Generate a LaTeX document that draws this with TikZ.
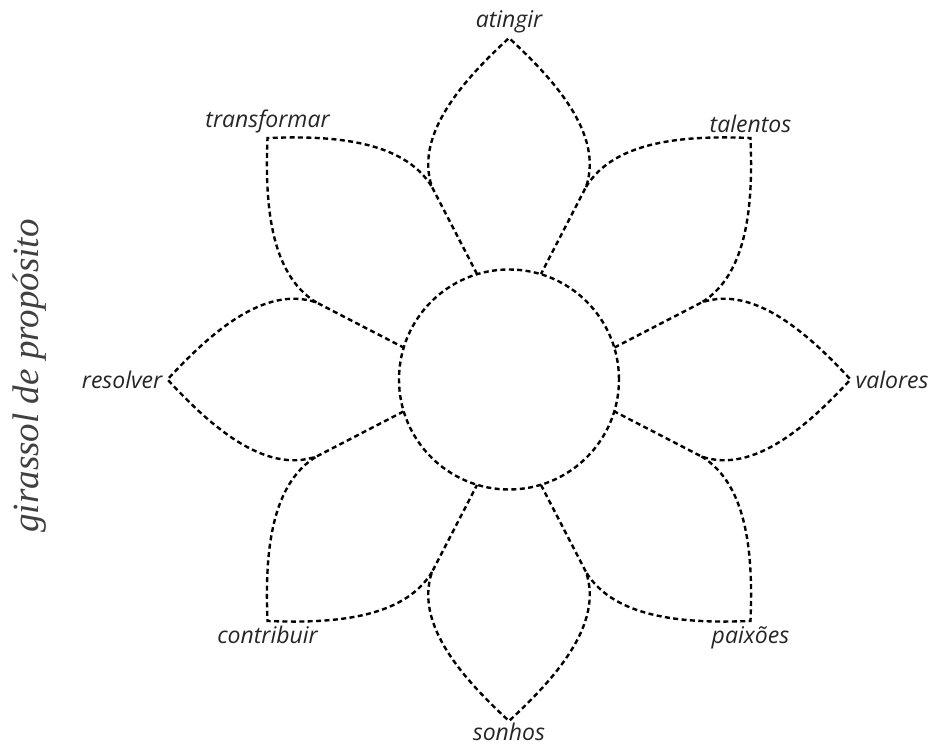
\documentclass[tikz,border=0pt]{standalone}
\usepackage{fontspec}
\newfontfamily\petalfont{Open Sans}
\newfontfamily\titlefont{Liberation Serif}
\usetikzlibrary{positioning}

\tikzset{
  petal/.style={line width=2.4pt, dash pattern=on 5pt off 3.4pt},
  petallabel/.style={font=\petalfont\itshape\fontsize{23}{26}\selectfont, text=black!85, inner sep=2pt},
}

\begin{document}
\begin{tikzpicture}[x=1pt, y=1pt]
% moldura do desenho
\useasboundingbox (-509,-366.5) rectangle (429,379.5);

% quatro pétalas principais (com as hastes até o miolo)
\foreach \ang/\txt/\dir/\gap in {90/atingir/above/3pt, 0/valores/right/3pt,
    180/resolver/left/3pt, -90/sonhos/below/0pt}{
  \begin{scope}[rotate=\ang-90]
    \coordinate (\txt-l) at (-77,192.5);
    \coordinate (\txt-r) at (77,192.5);
    \draw[petal] (-32,105.5) -- (\txt-l)
      .. controls (-95,245) and (-45,300) .. (0,341.5)
      .. controls (45,300) and (95,245) .. (\txt-r) -- (32,105.5);
  \end{scope}
  \coordinate (tip-\txt) at (\ang:341.5);
  \node[petallabel, \dir=\gap of tip-\txt] (\txt) {\txt};
}

% quatro pétalas diagonais, entre as principais
\foreach \ang/\txt/\nxt/\prv/\dir in {45/talentos/atingir/valores/above, 135/transformar/resolver/atingir/above,
    -135/contribuir/sonhos/resolver/below, -45/paixões/valores/sonhos/below}{
  \draw[petal, rotate=\ang-90] (\nxt-r)
    .. controls (-95,245) and (-45,300) .. (0,341.5)
    .. controls (45,300) and (95,245) .. (\prv-l);
  \coordinate (tip-\txt) at (\ang:341.5);
  \node[petallabel, \dir=3pt of tip-\txt] (\txt) {\txt};
}

% miolo
\draw[petal] (0,0) circle (110);

% titulo vertical
\node[rotate=90, font=\titlefont\itshape\fontsize{37}{40}\selectfont, text=black!75] (titulo) at (-479,3.5) {girassol de propósito};
\end{tikzpicture}
\end{document}
